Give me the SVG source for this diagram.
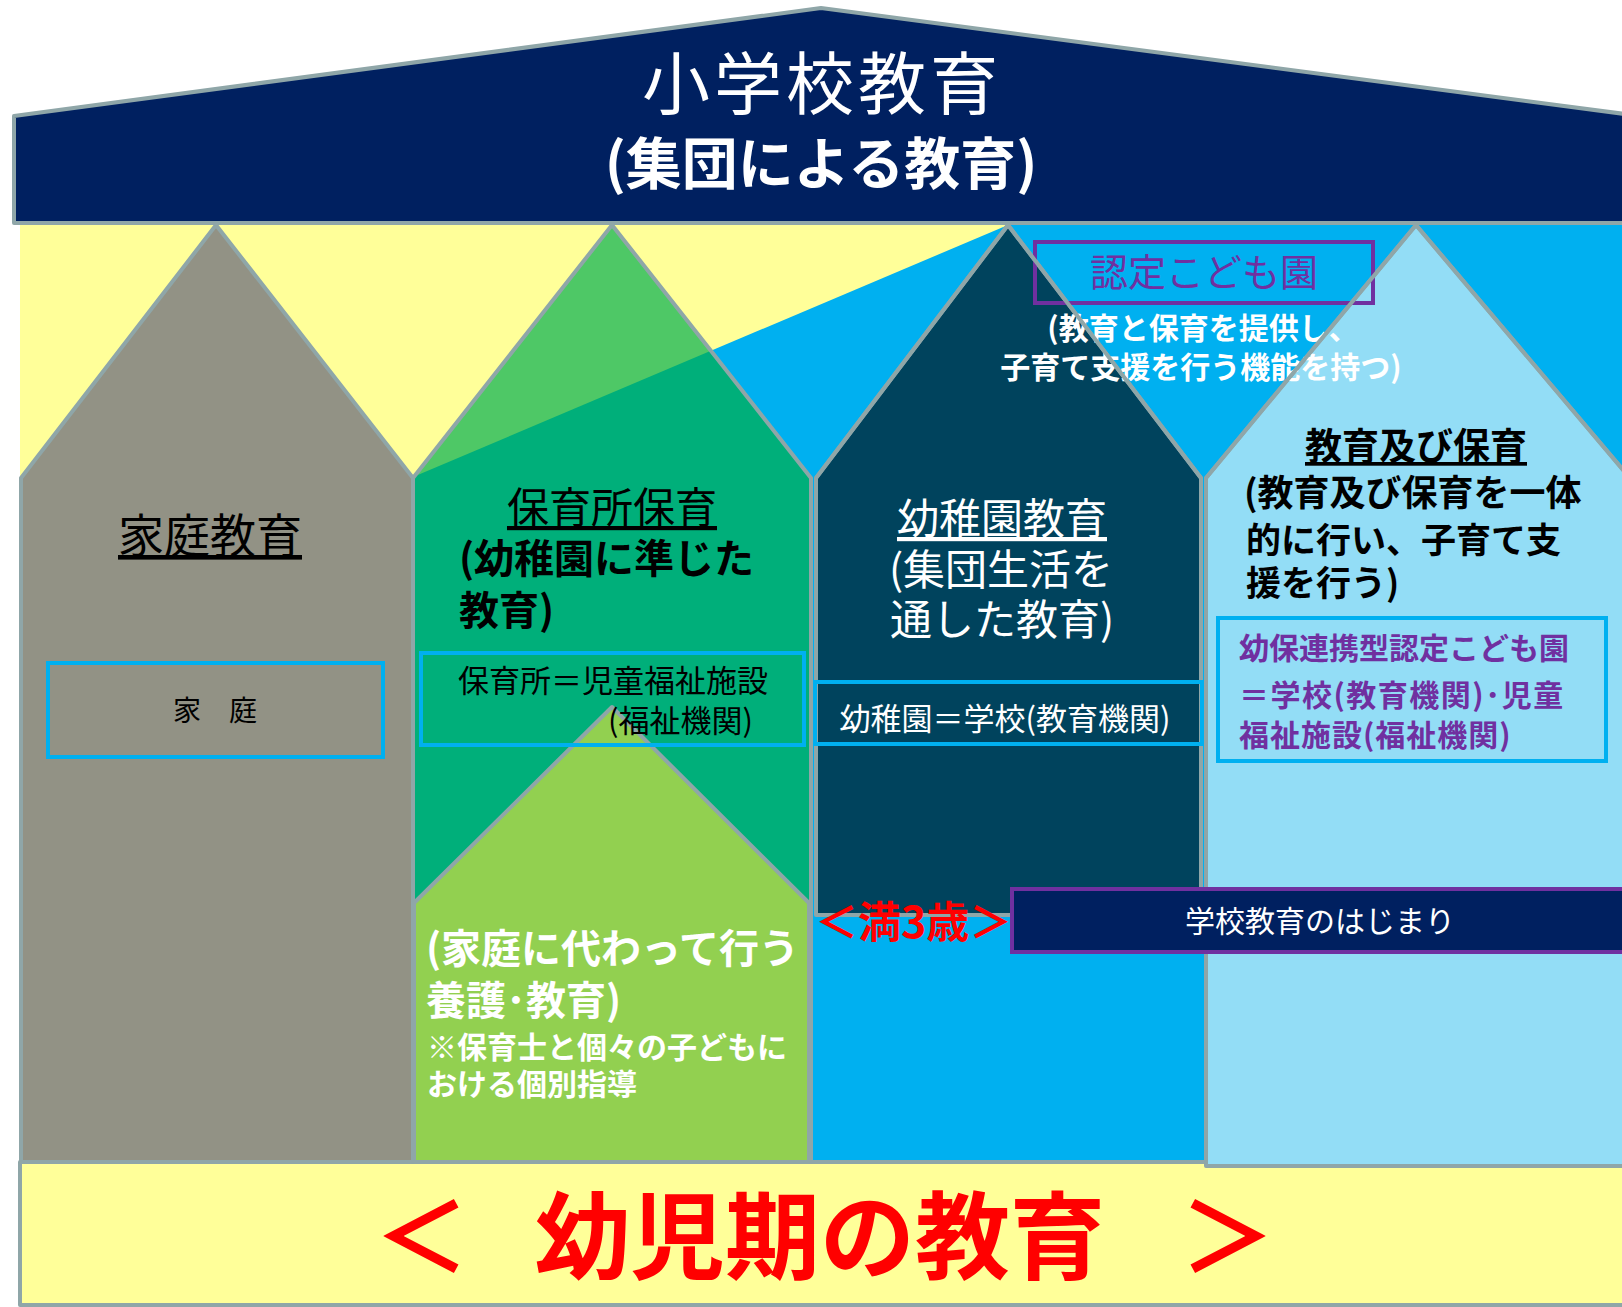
<svg xmlns="http://www.w3.org/2000/svg" width="1622" height="1307" viewBox="0 0 1622 1307">
<style>
.ln{stroke:#8FA6A8;stroke-width:4;stroke-linejoin:round}
.no{fill:none}
.t{font-family:'Noto Sans CJK JP','Noto Sans CJK SC',sans-serif}
.b{font-weight:bold}
.w{fill:#FFFFFF}
.k{fill:#000000}
.p{fill:#7030A0}
.r{fill:#FF0000}
.bb{fill:none;stroke:#00B0F0;stroke-width:4}
.u{text-decoration:underline}
</style>
<defs>
<clipPath id="blueclip"><polygon points="413,477 1008,225 1640,225 1640,1170 413,1170"/></clipPath>
</defs>
<rect width="1622" height="1307" fill="#FFFFFF"/>
<g id="background">
<rect x="20" y="223" width="1610" height="940" fill="#FFFF99"/>
<polygon points="413,477 1008,225 1640,225 1640,1162 413,1162" fill="#00B0F0"/>
</g>
<g id="band">
<rect x="20" y="1162" width="1610" height="143" fill="#FFFF99" class="ln"/>
</g>
<g id="house-home">
<polygon points="21,1162 21,478 216,225 413,478 413,1162" fill="#929285" class="ln"/>
</g>
<g id="house-nursery">
<polygon points="413,1162 413,478 612,225 811,478 811,1162" fill="#4EC866"/>
<polygon points="413,1162 413,478 612,225 811,478 811,1162" fill="#00AF7A" clip-path="url(#blueclip)"/>
<polygon points="413,1162 413,478 612,225 811,478 811,1162" class="ln no"/>
</g>
<g id="house-kindergarten">
<polygon points="816,915 816,478 1008,225 1201,478 1201,915" fill="#00435D" class="ln"/>
</g>
<g id="house-care">
<polygon points="414,1162 414,903 612,707 809,903 809,1162" fill="#92D050" class="ln"/>
</g>
<g id="house-integrated">
<polygon points="1206,1166 1206,478 1416,225 1640,490 1640,1166" fill="#93DDF6" class="ln"/>
</g>
<g id="roof">
<polygon points="14,223 14,116 821,8 1640,116 1640,223" fill="#002060" class="ln"/>
<text class="t w" x="822" y="109" font-size="68" text-anchor="middle" letter-spacing="4">小学校教育</text>
<text class="t w b" x="821" y="184" font-size="56" text-anchor="middle">(集団による教育)</text>
</g>
<g id="nintei">
<rect x="1035" y="242" width="338" height="61" fill="none" stroke="#7030A0" stroke-width="4"/>
<text class="t p" x="1204" y="286" font-size="38" text-anchor="middle">認定こども園</text>
<text class="t w b" x="1203" y="339" font-size="30" text-anchor="middle">(教育と保育を提供し、</text>
<text class="t w b" x="1201" y="378" font-size="30" text-anchor="middle">子育て支援を行う機能を持つ)</text>
</g>
<g id="outlines">
<polyline points="1201,915 1201,478 1008,225 816,478" class="ln no"/>
<polyline points="1206,560 1206,478 1416,225 1640,490" class="ln no"/>
</g>
<g id="home-labels">
<text class="t k u" x="210" y="552" font-size="46" text-anchor="middle">家庭教育</text>
<rect x="48" y="663" width="335" height="94" class="bb"/>
<text class="t k" x="215" y="721" font-size="28" text-anchor="middle">家　庭</text>
</g>
<g id="nursery-labels">
<text class="t k u" x="612" y="523" font-size="42" text-anchor="middle">保育所保育</text>
<text class="t k b" x="459" y="573" font-size="40">(幼稚園に準じた</text>
<text class="t k b" x="459" y="625" font-size="40">教育)</text>
<rect x="421" y="653" width="383" height="92" class="bb"/>
<text class="t k" x="613" y="692" font-size="31" text-anchor="middle">保育所＝児童福祉施設</text>
<text class="t k" x="753" y="732" font-size="31" text-anchor="end">(福祉機関)</text>
</g>
<g id="kindergarten-labels">
<text class="t w u" x="1002" y="534" font-size="42" text-anchor="middle">幼稚園教育</text>
<text class="t w" x="1001" y="585" font-size="42" text-anchor="middle">(集団生活を</text>
<text class="t w" x="1002" y="635" font-size="42" text-anchor="middle">通した教育)</text>
<rect x="815" y="682" width="387" height="62" class="bb"/>
<text class="t w" x="1005" y="730" font-size="31" text-anchor="middle">幼稚園＝学校(教育機関)</text>
</g>
<g id="integrated-labels">
<text class="t k b u" x="1416" y="460" font-size="37" text-anchor="middle">教育及び保育</text>
<text class="t k b" x="1244" y="506" font-size="36">(教育及び保育を一体</text>
<text class="t k b" x="1246" y="553" font-size="35">的に行い、子育て支</text>
<text class="t k b" x="1246" y="596" font-size="35">援を行う)</text>
<rect x="1218" y="618" width="388" height="143" class="bb"/>
<text class="t p b" x="1239" y="659" font-size="30">幼保連携型認定こども園</text>
<text class="t p b" x="1239" y="706" font-size="30" letter-spacing="1.5">＝学校(教育機関)･児童</text>
<text class="t p b" x="1239" y="746" font-size="30" letter-spacing="1">福祉施設(福祉機関)</text>
</g>
<g id="care-labels">
<text class="t w b" x="426" y="963" font-size="40">(家庭に代わって行う</text>
<text class="t w b" x="426" y="1015" font-size="40">養護･教育)</text>
<text class="t w b" x="427" y="1058" font-size="30">※保育士と個々の子どもに</text>
<text class="t w b" x="427" y="1095" font-size="30">おける個別指導</text>
</g>
<g id="age-marker">
<text class="t r b" x="815" y="938" font-size="43">＜満3歳＞</text>
</g>
<g id="school-start">
<rect x="1012" y="889" width="630" height="63" fill="#002060" stroke="#7030A0" stroke-width="4"/>
<text class="t w" x="1320" y="932" font-size="30" text-anchor="middle">学校教育のはじまり</text>
</g>
<g id="band-label">
<text class="t r b" y="1272" font-size="95"><tspan x="374">＜ </tspan><tspan x="535">幼児期の教育 </tspan><tspan x="1180">＞</tspan></text>
</g>
</svg>
